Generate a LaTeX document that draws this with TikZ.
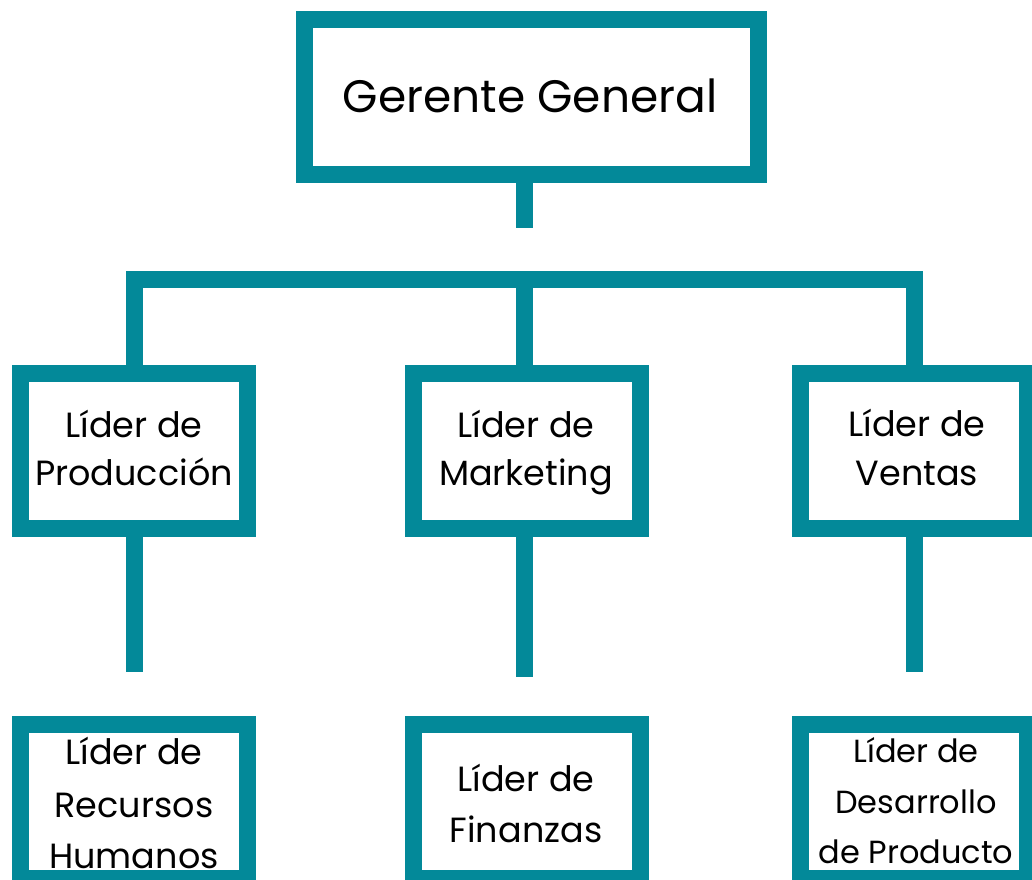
\documentclass[tikz,border=0pt]{standalone}
\usepackage{fontspec}
\setmainfont{Poppins}
\definecolor{tealc}{RGB}{3,137,153}
\begin{document}
\begin{tikzpicture}[x=1pt,y=-1pt,
  box/.style={draw=tealc,line width=17pt,fill=white,inner sep=0pt},
  bigbox/.style={box,minimum width=454pt,minimum height=155pt},
  smallbox/.style={box,minimum width=227pt,minimum height=155pt},
  lowbox/.style={box,minimum width=227pt,minimum height=154pt},
  link/.style={draw=tealc,line width=17pt,line join=miter},
  lbl/.style={anchor=base,inner sep=0pt,font=\fontsize{35}{35}\selectfont},
  lblsmall/.style={anchor=base,inner sep=0pt,font=\fontsize{32}{32}\selectfont},
  lbltop/.style={anchor=base,inner sep=0pt,font=\fontsize{45.5}{45.5}\selectfont}]
\useasboundingbox (0,0) rectangle (1032,879);
% boxes
\node[bigbox] (gm) at (531.5,97) {};
\node[smallbox] (prod) at (134,451) {};
\node[smallbox] (mkt) at (527,451) {};
\node[smallbox] (vent) at (914,451) {};
\node[lowbox] (rh) at (134,801.5) {};
\node[lowbox] (fin) at (527,801.5) {};
\node[lowbox] (dp) at (914,801.5) {};
% coordinates
\coordinate (hub) at (524.5,279);
\coordinate (gmend) at (524.5,228);
\coordinate (prodend) at (134,672);
\coordinate (mktend) at (524,677);
\coordinate (ventend) at (914.5,672);
% connectors
\draw[link] (gm.south -| gmend) -- (gmend);
\draw[link] (prod.north) |- (hub) -| (vent.north -| ventend);
\draw[link] (hub) -- (hub |- mkt.north);
\draw[link] (prod.south) -- (prodend);
\draw[link] (mkt.south -| mktend) -- (mktend);
\draw[link] (vent.south -| ventend) -- (ventend);
% texts
\node[lbltop] (tgm) at (530,112.5) {Gerente General};
\node[lbl] (tprod1) at (134,437) {Líder de};
\node[lbl] (tprod2) at (134,485.5) {Producción};
\node[lbl] (tmkt1) at (526,437) {Líder de};
\node[lbl] (tmkt2) at (526,485.5) {Marketing};
\node[lbl] (tvent1) at (917,436) {Líder de};
\node[lbl] (tvent2) at (917,485) {Ventas};
\node[lbl] (trh1) at (134,764) {Líder de};
\node[lbl] (trh2) at (134,817) {Recursos};
\node[lbl] (trh3) at (134,868) {Humanos};
\node[lbl] (tfin1) at (526,791) {Líder de};
\node[lbl] (tfin2) at (526,842) {Finanzas};
\node[lblsmall] (tdp1) at (916,762) {Líder de};
\node[lblsmall] (tdp2) at (916,813) {Desarrollo};
\node[lblsmall] (tdp3) at (916,863) {de Producto};
\end{tikzpicture}
\end{document}
